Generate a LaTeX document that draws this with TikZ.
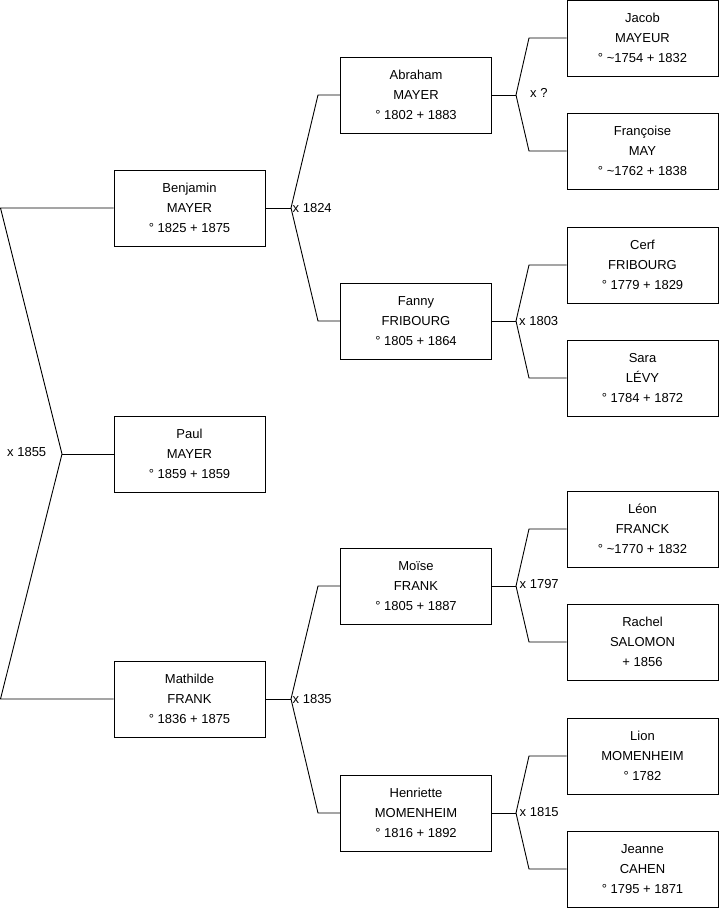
\documentclass[tikz,border=0pt]{standalone}
\usepackage{fontspec}
\setmainfont{Liberation Sans}
\begin{document}
\begin{tikzpicture}[x=1pt,y=-1pt,
  person/.style={draw=black, line width=0.9pt, minimum width=151pt, minimum height=76pt,
    inner sep=0pt, align=center, font=\fontsize{13}{20}\selectfont},
  link/.style={draw=black, line width=0.9pt},
  marr/.style={anchor=west, inner sep=0pt, font=\fontsize{13}{15}\selectfont}]
\useasboundingbox (0,0) rectangle (719,908);
% generation 1
\node[person] (benjamin) at (189.5,208) {Benjamin\\MAYER\\° 1825 + 1875};
\node[person] (paul) at (189.5,454) {Paul\\MAYER\\° 1859 + 1859};
\node[person] (mathilde) at (189.5,699) {Mathilde\\FRANK\\° 1836 + 1875};
% generation 2
\node[person] (abraham) at (416,95) {Abraham\\MAYER\\° 1802 + 1883};
\node[person] (fanny) at (416,321) {Fanny\\FRIBOURG\\° 1805 + 1864};
\node[person] (moise) at (416,586) {Moïse\\FRANK\\° 1805 + 1887};
\node[person] (henriette) at (416,813) {Henriette\\MOMENHEIM\\° 1816 + 1892};
% generation 3
\node[person] (jacob) at (642.5,38) {Jacob\\MAYEUR\\° \textasciitilde1754 + 1832};
\node[person] (francoise) at (642.5,151) {Françoise\\MAY\\° \textasciitilde1762 + 1838};
\node[person] (cerf) at (642.5,265) {Cerf\\FRIBOURG\\° 1779 + 1829};
\node[person] (sara) at (642.5,378) {Sara\\LÉVY\\° 1784 + 1872};
\node[person] (leon) at (642.5,529) {Léon\\FRANCK\\° \textasciitilde1770 + 1832};
\node[person] (rachel) at (642.5,642) {Rachel\\SALOMON\\+ 1856};
\node[person] (lion) at (642.5,756) {Lion\\MOMENHEIM\\° 1782};
\node[person] (jeanne) at (642.5,869) {Jeanne\\CAHEN\\° 1795 + 1871};
% junctions
\coordinate (t0) at (0.5,208);
\coordinate (v0) at (62,454);
\coordinate (b0) at (0.5,699);
\draw[link] (benjamin.west) -- (t0) -- (v0) -- (b0) -- (mathilde.west);
\draw[link] (v0) -- (paul.west);
\node[marr] (m1855) at (7,452) {x 1855};
% Benjamin
\coordinate (vb) at (291,208);
\coordinate (vbt) at (318,95);
\coordinate (vbb) at (318,321);
\draw[link] (benjamin.east) -- (vb);
\draw[link] (abraham.west) -- (vbt) -- (vb) -- (vbb) -- (fanny.west);
\node[marr] (m1824) at (292.5,208) {x 1824};
% Mathilde
\coordinate (vm) at (291,699);
\coordinate (vmt) at (318,586);
\coordinate (vmb) at (318,813);
\draw[link] (mathilde.east) -- (vm);
\draw[link] (moise.west) -- (vmt) -- (vm) -- (vmb) -- (henriette.west);
\node[marr] (m1835) at (292.5,699) {x 1835};
% Abraham
\coordinate (va) at (516,95);
\coordinate (vat) at (529,38);
\coordinate (vab) at (529,151);
\draw[link] (abraham.east) -- (va);
\draw[link] (jacob.west) -- (vat) -- (va) -- (vab) -- (francoise.west);
\node[marr] (mq) at (530,93) {x ?};
% Fanny
\coordinate (vf) at (516,321);
\coordinate (vft) at (529,265);
\coordinate (vfb) at (529,378);
\draw[link] (fanny.east) -- (vf);
\draw[link] (cerf.west) -- (vft) -- (vf) -- (vfb) -- (sara.west);
\node[marr] (m1803) at (519,321) {x 1803};
% Moise
\coordinate (vo) at (516,586);
\coordinate (vot) at (529,529);
\coordinate (vob) at (529,642);
\draw[link] (moise.east) -- (vo);
\draw[link] (leon.west) -- (vot) -- (vo) -- (vob) -- (rachel.west);
\node[marr] (m1797) at (519.5,584) {x 1797};
% Henriette
\coordinate (vh) at (516,813);
\coordinate (vht) at (529,756);
\coordinate (vhb) at (529,869);
\draw[link] (henriette.east) -- (vh);
\draw[link] (lion.west) -- (vht) -- (vh) -- (vhb) -- (jeanne.west);
\node[marr] (m1815) at (519.5,812) {x 1815};
\end{tikzpicture}
\end{document}
